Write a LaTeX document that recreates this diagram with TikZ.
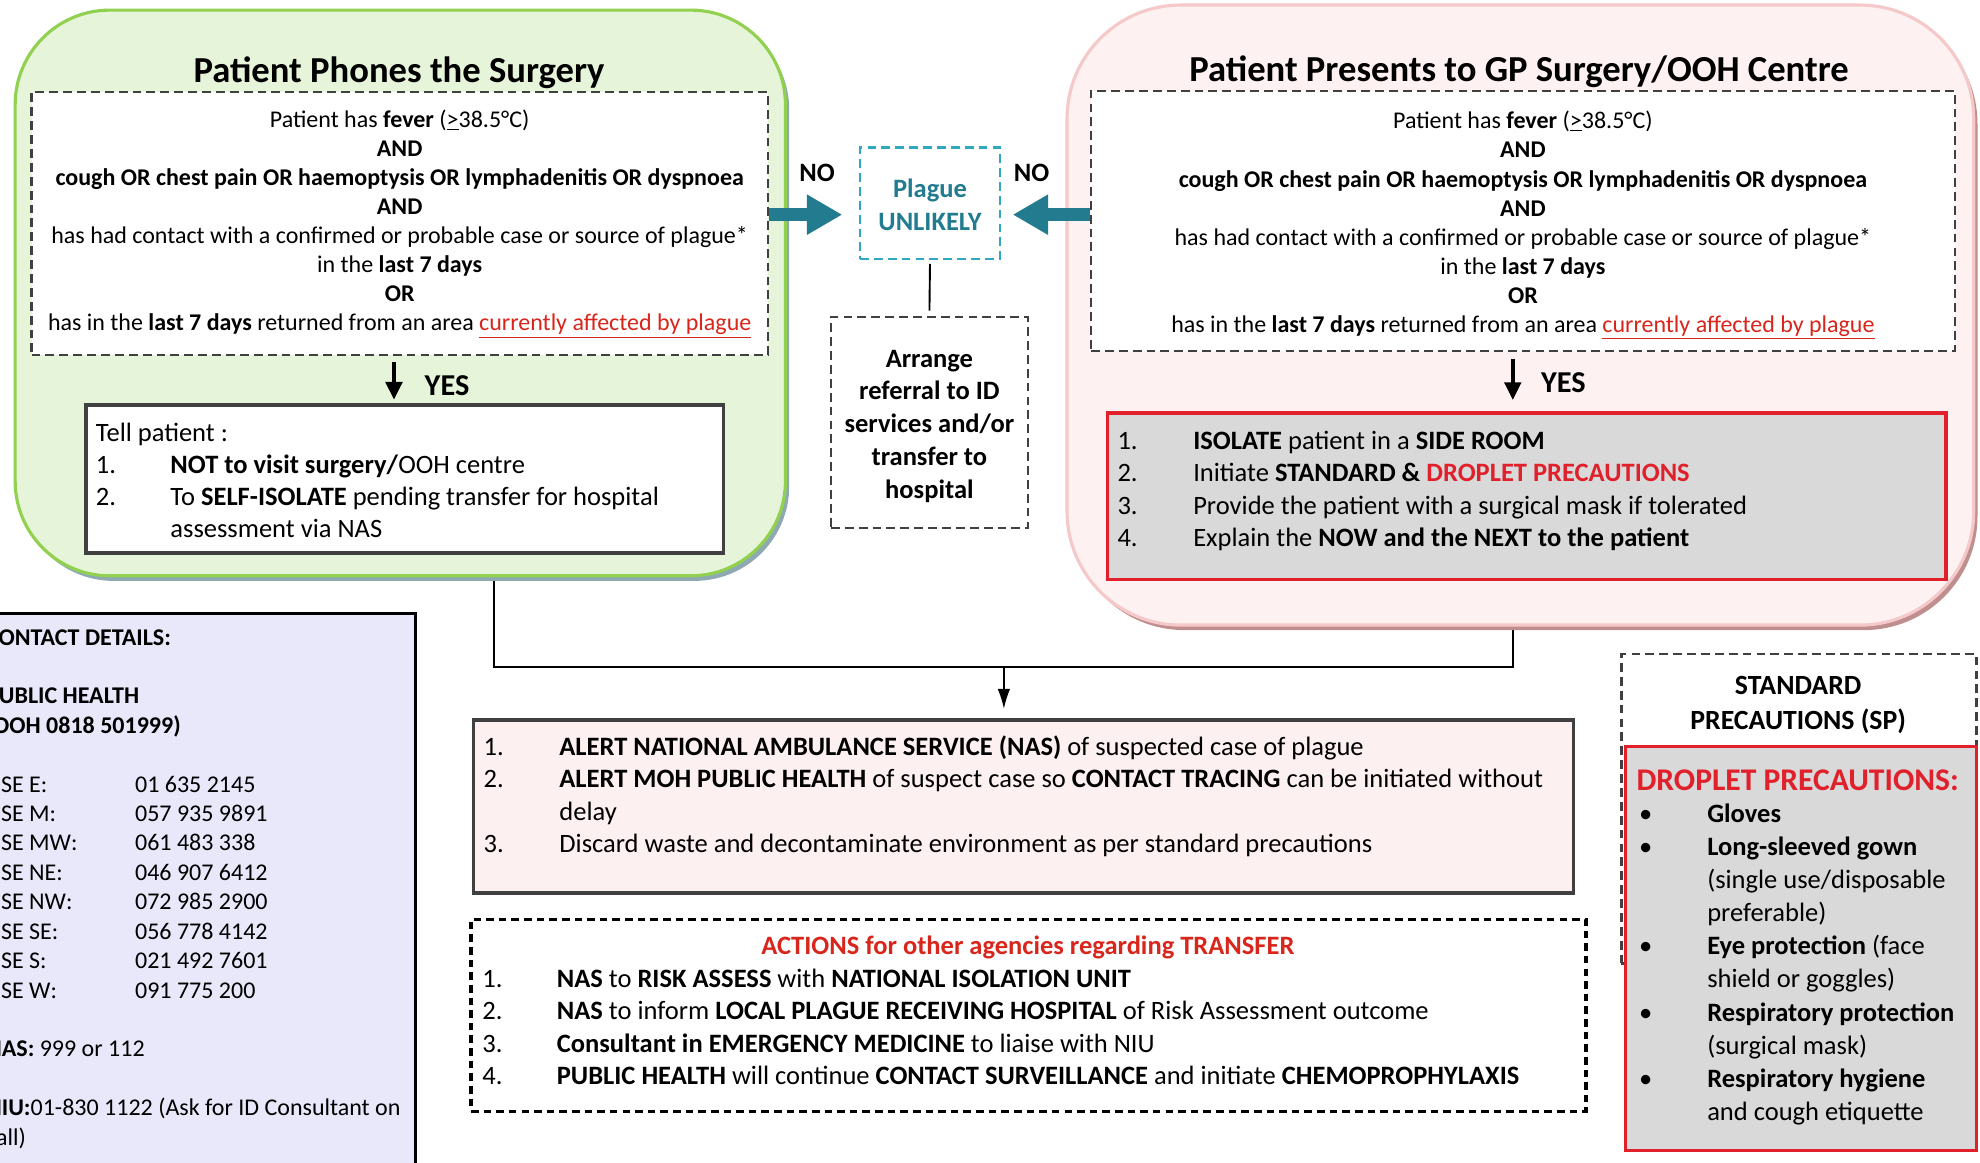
\documentclass[tikz,border=0pt]{standalone}
\usepackage{fontspec}
\setmainfont{Carlito}
\usetikzlibrary{arrows.meta,shadows}
\pgfdeclarelayer{background}
\pgfsetlayers{background,main}
\definecolor{gfill}{HTML}{E6F4D9}
\definecolor{gborder}{HTML}{92D050}
\definecolor{gshadow}{HTML}{8EA9B4}
\definecolor{pfill}{HTML}{FDF1F1}
\definecolor{pborder}{HTML}{F5C9C9}
\definecolor{pshadow}{HTML}{BF8E8E}
\definecolor{teal1}{HTML}{237B8F}
\definecolor{teal2}{HTML}{31A8C2}
\definecolor{dgray}{HTML}{404040}
\definecolor{boxred}{HTML}{E0202A}
\definecolor{linkred}{HTML}{D9261C}
\definecolor{lgray}{HTML}{D9D9D9}
\definecolor{lav}{HTML}{E8E8FA}
\definecolor{afill}{HTML}{FDF0F0}
\newcommand\myfs[2]{\fontsize{#1pt}{#2pt}\selectfont}
\begin{document}
\begin{tikzpicture}[x=1pt,y=-1pt,
  txt/.style={inner sep=0pt, outer sep=0pt},
  dashbox/.style={draw=dgray, line width=2pt, dash pattern=on 7pt off 4pt, inner sep=0pt},
  solidbox/.style={draw=dgray, line width=3pt, inner sep=0pt},
  redbox/.style={draw=boxred, line width=2.5pt, fill=lgray, inner sep=0pt},
  noarrow/.style={draw=teal1, line width=10pt, -{Triangle[length=28pt,width=30pt]}},
  yesarrow/.style={draw=black, line width=3pt, -{Triangle[length=14pt,width=13pt]}},
  conn/.style={draw=black, line width=1.5pt},
]
\useasboundingbox (0,0) rectangle (1568,921);
\clip (0,0) rectangle (1568,921);

% big rounded panels
\node[draw=gborder, fill=gfill, line width=2.5pt, rounded corners=75pt,
  minimum width=610pt, minimum height=448pt, inner sep=0pt,
  drop shadow={shadow xshift=3pt, shadow yshift=-4pt, fill=gshadow, opacity=1}] (green) at (317,232) {};
\node[draw=pborder, fill=pfill, line width=2.5pt, rounded corners=90pt,
  minimum width=718pt, minimum height=491pt, inner sep=0pt,
  drop shadow={shadow xshift=3pt, shadow yshift=-4pt, fill=pshadow, opacity=1}] (pink) at (1204,249.5) {};

% titles
\node[txt, anchor=base, font=\myfs{29}{34}\bfseries] (title1) at (316,65.5) {Patient Phones the Surgery};
\node[txt, anchor=base, font=\myfs{29}{34}\bfseries] (title2) at (1203,64.5) {Patient Presents to GP Surgery/OOH Centre};

% criteria boxes
\node[dashbox, fill=white, minimum width=583pt, minimum height=208pt] (crit1) at (316.5,177) {};
\node[txt, anchor=north, align=center, font=\myfs{19}{23}] (crit1t) at (316.5,85) {\strut Patient has \textbf{fever} (\underline{>}38.5°C)\\
\textbf{AND}\\
\textbf{cough OR chest pain OR haemoptysis OR lymphadenitis OR dyspnoea}\\
\textbf{AND}\\
has had contact with a confirmed or probable case or source of plague*\\
in the \textbf{last 7 days}\\
\textbf{OR}\\
has in the \textbf{last 7 days} returned from an area \textcolor{linkred}{\underline{currently affected by plague}}};

\node[dashbox, fill=white, minimum width=684pt, minimum height=206pt] (crit2) at (1206,175) {};
\node[txt, anchor=north, align=center, font=\myfs{19}{23}] (crit2t) at (1206,86) {\strut Patient has \textbf{fever} (\underline{>}38.5°C)\\
\textbf{AND}\\
\textbf{cough OR chest pain OR haemoptysis OR lymphadenitis OR dyspnoea}\\
\textbf{AND}\\
has had contact with a confirmed or probable case or source of plague*\\
in the \textbf{last 7 days}\\
\textbf{OR}\\
has in the \textbf{last 7 days} returned from an area \textcolor{linkred}{\underline{currently affected by plague}}};

% plague unlikely
\node[draw=teal2, line width=2pt, dash pattern=on 7pt off 4pt, fill=white, inner sep=0pt,
  minimum width=111pt, minimum height=88pt] (plague) at (736.5,161) {};
\node[txt, anchor=north, align=center, font=\myfs{21}{26}\bfseries, text=teal1] (plaguet) at (736.5,138) {\strut Plague\\UNLIKELY};
\node[txt, anchor=base, font=\myfs{21}{26}\bfseries] (no1) at (647,144) {NO};
\node[txt, anchor=base, font=\myfs{21}{26}\bfseries] (no2) at (817,144) {NO};

% arrange referral
\node[dashbox, fill=white, minimum width=156pt, minimum height=167pt] (arrange) at (736,334.5) {};
\node[txt, anchor=north, align=center, font=\myfs{21}{26}\bfseries] (arranget) at (736,272.5) {\strut Arrange\\referral to ID\\services and/or\\transfer to\\hospital};

% YES labels
\node[txt, anchor=base, font=\myfs{24}{28}\bfseries] (yes1) at (354,313.5) {YES};
\node[txt, anchor=base, font=\myfs{24}{28}\bfseries] (yes2) at (1238,310.5) {YES};

% tell patient
\node[solidbox, fill=white, minimum width=505pt, minimum height=117pt] (tell) at (320.5,379.5) {};
\node[txt, anchor=north west, align=left, font=\myfs{21}{25.4}] (tellt) at (76,331.5) {\strut Tell patient :\\
\makebox[59pt][l]{1.}\textbf{NOT to visit surgery/}OOH centre\\
\makebox[59pt][l]{2.}To \textbf{SELF-ISOLATE} pending transfer for hospital\\
\hspace*{59pt}assessment via NAS};

% isolate
\node[redbox, minimum width=664pt, minimum height=132pt] (iso) at (1209,393) {};
\node[txt, anchor=north west, align=left, font=\myfs{21}{25.7}] (isot) at (885,338) {\strut\makebox[60pt][l]{1.}\textbf{ISOLATE} patient in a \textbf{SIDE ROOM}\\
\makebox[60pt][l]{2.}Initiate \textbf{STANDARD \& \textcolor{boxred}{DROPLET PRECAUTIONS}}\\
\makebox[60pt][l]{3.}Provide the patient with a surgical mask if tolerated\\
\makebox[60pt][l]{4.}Explain the \textbf{NOW and the NEXT to the patient}};

% alert
\node[solidbox, fill=afill, minimum width=871pt, minimum height=137pt] (alert) at (810.5,638.5) {};
\node[txt, anchor=north west, align=left, font=\myfs{21}{25.7}] (alertt) at (383,580) {\strut\makebox[60pt][l]{1.}\textbf{ALERT NATIONAL AMBULANCE SERVICE (NAS)} of suspected case of plague\\
\makebox[60pt][l]{2.}\textbf{ALERT MOH PUBLIC HEALTH} of suspect case so \textbf{CONTACT TRACING} can be initiated without\\
\hspace*{60pt}delay\\
\makebox[60pt][l]{3.}Discard waste and decontaminate environment as per standard precautions};

% actions
\node[draw=black, line width=2.5pt, dash pattern=on 6pt off 4pt, inner sep=0pt,
  minimum width=883pt, minimum height=152pt] (actions) at (814.5,804) {};
\node[txt, anchor=base, font=\myfs{21}{25.7}\bfseries, text=linkred] (actionst) at (814,756) {ACTIONS for other agencies regarding TRANSFER};
\node[txt, anchor=north west, align=left, font=\myfs{21}{25.7}] (actionsl) at (382,764) {\strut\makebox[59pt][l]{1.}\textbf{NAS} to \textbf{RISK ASSESS} with \textbf{NATIONAL ISOLATION UNIT}\\
\makebox[59pt][l]{2.}\textbf{NAS} to inform \textbf{LOCAL PLAGUE RECEIVING HOSPITAL} of Risk Assessment outcome\\
\makebox[59pt][l]{3.}\textbf{Consultant in EMERGENCY MEDICINE} to liaise with NIU\\
\makebox[59pt][l]{4.}\textbf{PUBLIC HEALTH} will continue \textbf{CONTACT SURVEILLANCE} and initiate \textbf{CHEMOPROPHYLAXIS}};

% contact details
\node[draw=black, fill=lav, line width=2pt, inner sep=0pt, anchor=north east,
  minimum width=380pt, minimum height=500pt] (contact) at (330,485) {};
\node[txt, anchor=north west, align=left, font=\myfs{19}{23.3}] (contactt) at (-11,494.5) {\strut\textbf{CONTACT DETAILS:}\\
\strut\\
\textbf{PUBLIC HEALTH}\\
\textbf{(OOH 0818 501999)}\\
\strut\\
\makebox[118pt][l]{HSE E:}01 635 2145\\
\makebox[118pt][l]{HSE M:}057 935 9891\\
\makebox[118pt][l]{HSE MW:}061 483 338\\
\makebox[118pt][l]{HSE NE:}046 907 6412\\
\makebox[118pt][l]{HSE NW:}072 985 2900\\
\makebox[118pt][l]{HSE SE:}056 778 4142\\
\makebox[118pt][l]{HSE S:}021 492 7601\\
\makebox[118pt][l]{HSE W:}091 775 200\\
\strut\\
\textbf{NAS:} 999 or 112\\
\strut\\
\textbf{NIU:}01-830 1122 (Ask for ID Consultant on\\
call)};

% standard precautions
\node[dashbox, minimum width=281pt, minimum height=245pt] (sp) at (1424.5,640.5) {};
\node[txt, anchor=north, align=center, font=\myfs{22}{28}\bfseries] (spt) at (1424,530) {\strut STANDARD\\PRECAUTIONS (SP)};
\node[redbox, minimum width=278pt, minimum height=320pt] (drop) at (1426,751) {};
\node[txt, anchor=base west, font=\myfs{25}{30}\bfseries, text=boxred] (dropt) at (1296,626) {DROPLET PRECAUTIONS:};
\node[txt, anchor=north west, align=left, font=\myfs{21}{26.2}] (dropl) at (1298,633) {\strut\makebox[54pt][l]{•}\textbf{Gloves}\\
\makebox[54pt][l]{•}\textbf{Long-sleeved gown}\\
\hspace*{54pt}(single use/disposable\\
\hspace*{54pt}preferable)\\
\makebox[54pt][l]{•}\textbf{Eye protection} (face\\
\hspace*{54pt}shield or goggles)\\
\makebox[54pt][l]{•}\textbf{Respiratory protection}\\
\hspace*{54pt}(surgical mask)\\
\makebox[54pt][l]{•}\textbf{Respiratory hygiene}\\
\hspace*{54pt}and cough etiquette};

% arrows
\coordinate (ay) at (0,170);
\draw[noarrow, shorten >=13pt] (crit1.east |- ay) -- (plague.west |- ay);
\draw[noarrow, shorten >=9pt] (crit2.west |- ay) -- (plague.east |- ay);
\coordinate (yl) at (312,300);
\coordinate (yr) at (1198,300);
\draw[yesarrow, shorten <=5pt, shorten >=3pt] (crit1.south -| yl) -- (tell.north -| yl);
\draw[yesarrow, shorten <=5pt, shorten >=9pt] (crit2.south -| yr) -- (iso.north -| yr);

\begin{pgfonlayer}{background}
\coordinate (ja) at (391,528);
\coordinate (jb) at (1198,528);
\coordinate (jm) at (795,528);
\draw[conn] (green.south -| ja) -- (ja) -- (jb) -- (pink.south -| jb);
\draw[conn, -{Latex[length=16pt,width=10pt]}, shorten >=7pt] (jm) -- (alert.north -| jm);
\draw[conn, shorten <=3pt, shorten >=4pt] (plague.south) -- (arrange.north);
\end{pgfonlayer}
\end{tikzpicture}
\end{document}
